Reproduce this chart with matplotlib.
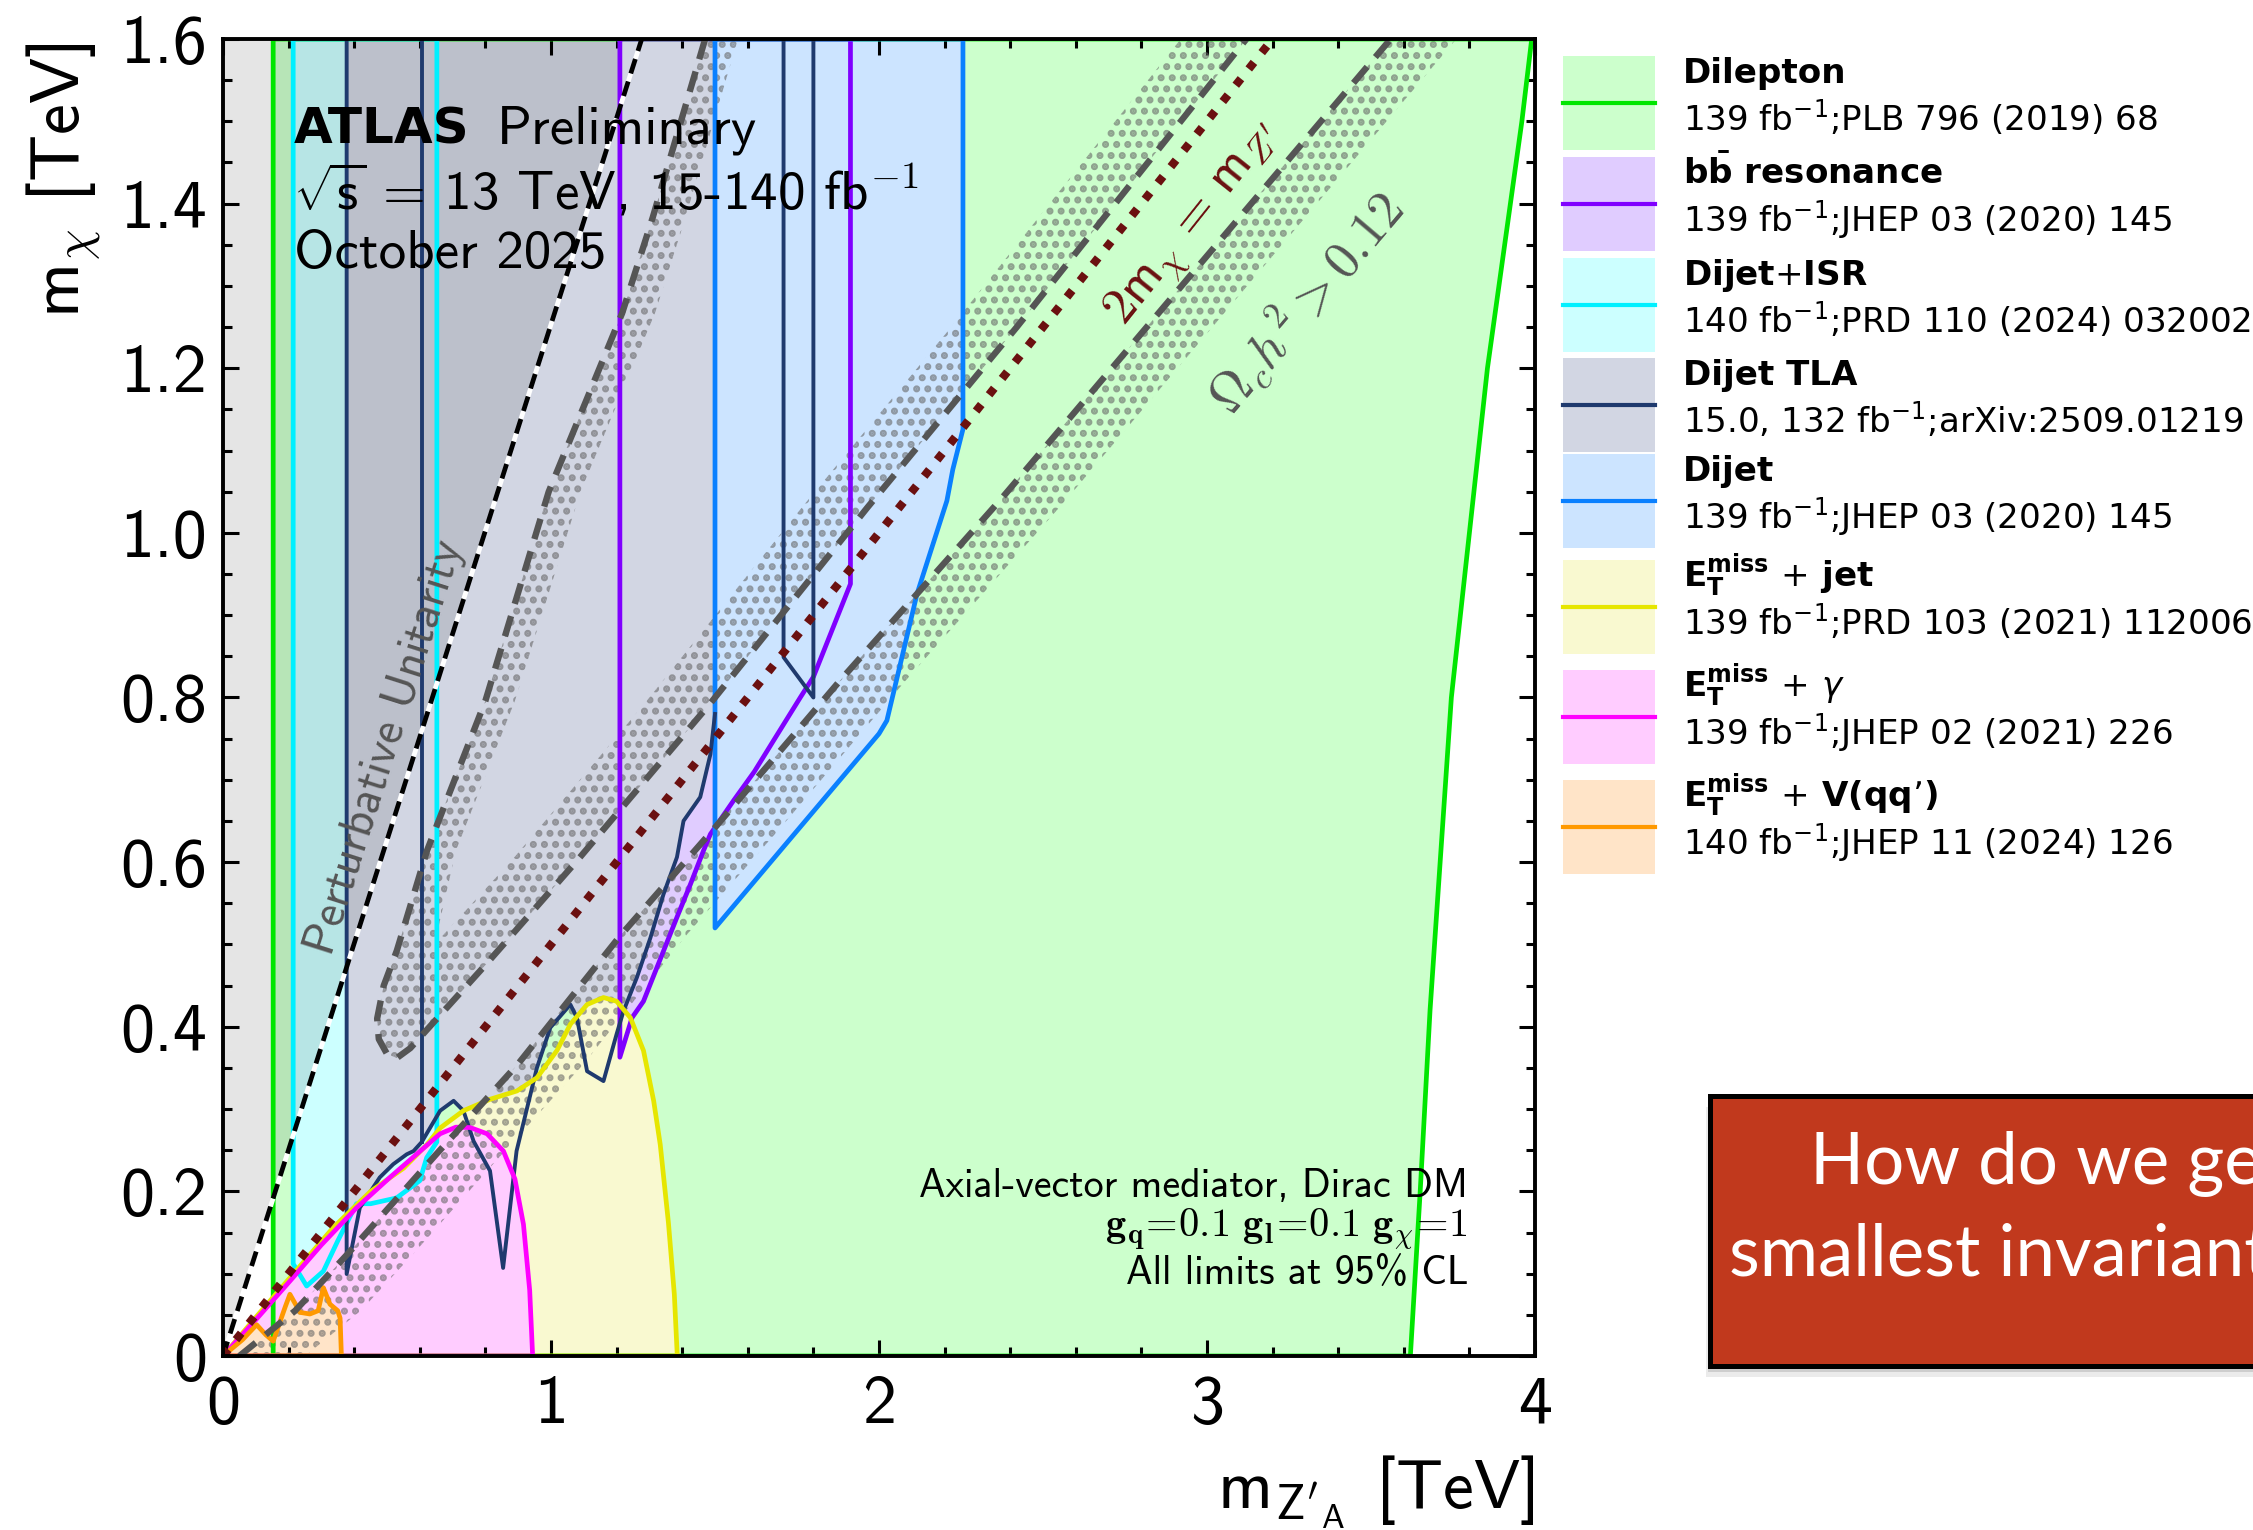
import numpy as np
import matplotlib
matplotlib.use("Agg")
import matplotlib.pyplot as plt
from matplotlib.patches import Rectangle
from matplotlib.ticker import MultipleLocator

# ---- excluded regions, (m_Z'A, m_chi) in TeV ----
lepton_x = [0.153, 0.153, 3.99, 3.96, 3.855, 3.745, 3.68, 3.65, 3.62]
lepton_y = [0.0, 1.6, 1.6, 1.5, 1.2, 0.8, 0.42, 0.2, 0.0]

bb_x = [1.21, 1.21, 1.247, 1.282, 1.303, 1.343, 1.384, 1.425, 1.465, 1.486, 1.557, 1.62, 1.679, 1.76, 1.80, 1.913, 1.913]
bb_y = [1.6, 0.363, 0.411, 0.431, 0.452, 0.492, 0.533, 0.573, 0.614, 0.634, 0.675, 0.71, 0.748, 0.80, 0.825, 0.938, 1.6]

isr_x = [0.214, 0.214, 0.255, 0.306, 0.35, 0.407, 0.45, 0.529, 0.60, 0.621, 0.652, 0.652]
isr_y = [1.6, 0.112, 0.085, 0.103, 0.14, 0.185, 0.185, 0.192, 0.213, 0.241, 0.26, 1.6]

tla_x = [0.377, 0.377, 0.417, 0.478, 0.519, 0.56, 0.581, 0.606, 0.662, 0.703, 0.733, 0.764, 0.814, 0.854,
         0.895, 0.957, 0.998, 1.059, 1.079, 1.11, 1.16, 1.20, 1.221, 1.262, 1.303, 1.343, 1.384, 1.404,
         1.455, 1.486, 1.5]
tla_y = [1.6, 0.0996, 0.18, 0.217, 0.233, 0.245, 0.249, 0.26, 0.298, 0.31, 0.298, 0.261, 0.225, 0.107,
         0.249, 0.35, 0.399, 0.427, 0.411, 0.346, 0.334, 0.391, 0.419, 0.46, 0.508, 0.561, 0.606, 0.65,
         0.679, 0.731, 0.78]
tla_mid_x = [0.606, 0.606]
tla_mid_y = [1.6, 0.26]
tla_hi_x = [1.709, 1.709, 1.80, 1.80]
tla_hi_y = [1.6, 0.849, 0.80, 1.6]

dijet_x = [1.5, 1.5, 2.0, 2.024, 2.116, 2.207, 2.225, 2.256, 2.256]
dijet_y = [1.6, 0.52, 0.756, 0.772, 0.926, 1.039, 1.077, 1.126, 1.6]

jet_x = [0.0, 0.1, 0.204, 0.336, 0.45, 0.55, 0.622, 0.662, 0.733, 0.815, 0.896, 0.957, 1.018, 1.059,
         1.11, 1.16, 1.20, 1.242, 1.282, 1.313, 1.333, 1.358, 1.376, 1.385]
jet_y = [0.0, 0.047, 0.095, 0.156, 0.2, 0.228, 0.257, 0.277, 0.298, 0.312, 0.322, 0.338, 0.371, 0.403,
         0.427, 0.4355, 0.431, 0.411, 0.371, 0.31, 0.257, 0.162, 0.075, 0.0]

gam_x = [0.0, 0.1, 0.204, 0.3, 0.407, 0.509, 0.61, 0.662, 0.71, 0.754, 0.805, 0.855, 0.89, 0.916, 0.935, 0.944]
gam_y = [0.0, 0.044, 0.091, 0.135, 0.18, 0.217, 0.252, 0.27, 0.278, 0.2775, 0.27, 0.249, 0.215, 0.16, 0.08, 0.0]

vqq_x = [0.0, 0.06, 0.1025, 0.13, 0.153, 0.19, 0.204, 0.235, 0.265, 0.29, 0.306, 0.326, 0.35, 0.357, 0.361]
vqq_y = [0.0, 0.02, 0.038, 0.026, 0.018, 0.06, 0.075, 0.053, 0.051, 0.055, 0.083, 0.063, 0.055, 0.046, 0.0]

# relic density contours (Omega h^2 = 0.12)
relic_u_x = [1.47, 1.31, 1.217, 0.993, 0.80, 0.622, 0.53, 0.49, 0.47, 0.475, 0.50, 0.53, 0.571, 0.80, 1.08,
             1.486, 1.965, 2.42, 3.12]
relic_u_y = [1.60, 1.383, 1.267, 1.05, 0.796, 0.614, 0.4925, 0.45, 0.41, 0.385, 0.367, 0.362, 0.374, 0.475,
             0.602, 0.793, 1.031, 1.25, 1.6]
relic_u_in_x = [1.57, 1.41, 1.317, 1.09, 0.89, 0.71, 0.645, 0.88, 1.286, 1.765, 2.22, 2.92]
relic_u_in_y = [1.6, 1.383, 1.267, 1.05, 0.796, 0.614, 0.5, 0.602, 0.793, 1.031, 1.25, 1.6]
relic_lo_x = [0.05, 0.22, 0.38, 0.65, 0.90, 1.21, 1.50, 1.88, 2.37, 3.56]
relic_lo_y = [0.0, 0.055, 0.124, 0.245, 0.355, 0.51, 0.642, 0.82, 1.04, 1.60]
relic_band_width = 0.2

unitarity_slope = np.sqrt(np.pi / 2)
overlay_xmax = 1.21

x_ticks = [0, 1, 2, 3, 4]
x_tick_labels = ["0", "1", "2", "3", "4"]
y_ticks = [0, 0.2, 0.4, 0.6, 0.8, 1.0, 1.2, 1.4, 1.6]
y_tick_labels = ["0", "0.2", "0.4", "0.6", "0.8", "1.0", "1.2", "1.4", "1.6"]

leg_titles = ["Dilepton", r"$\mathbf{b\bar{b}}$ resonance", r"Dijet$+$ISR", "Dijet TLA", "Dijet",
              r"$\mathbf{E_{T}^{miss}}$ $+$ jet", r"$\mathbf{E_{T}^{miss}}$ $+$ $\gamma$",
              r"$\mathbf{E_{T}^{miss}}$ $+$ V(qq’)"]
leg_refs = [r"139 fb$^{\mathrm{-1}}$;PLB 796 (2019) 68", r"139 fb$^{\mathrm{-1}}$;JHEP 03 (2020) 145",
            r"140 fb$^{\mathrm{-1}}$;PRD 110 (2024) 032002", r"15.0, 132 fb$^{\mathrm{-1}}$;arXiv:2509.01219",
            r"139 fb$^{\mathrm{-1}}$;JHEP 03 (2020) 145", r"139 fb$^{\mathrm{-1}}$;PRD 103 (2021) 112006",
            r"139 fb$^{\mathrm{-1}}$;JHEP 02 (2021) 226", r"140 fb$^{\mathrm{-1}}$;JHEP 11 (2024) 126"]
leg_fill = ["#ccffcc", "#e0ccff", "#ccffff", "#d2d6e3", "#cce4ff", "#f9f9d0", "#ffccff", "#ffe4c8"]
leg_line = ["#00e600", "#8000ff", "#00f0ff", "#1f3a6e", "#0a80ff", "#e6e600", "#ff00ff", "#ff9900"]
leg_tops = [56, 157, 258, 358, 454, 560, 670, 780]

SANS = ["cmss10", "DejaVu Sans"]
plt.rcParams["font.family"] = SANS
plt.rcParams["mathtext.fontset"] = "cm"
plt.rcParams["axes.unicode_minus"] = False
plt.rcParams["hatch.linewidth"] = 1.7

W, H, DPI = 2253, 1530, 200
fig = plt.figure(figsize=(W / DPI, H / DPI), dpi=DPI)
ax = fig.add_axes([223 / W, 174 / H, 1312 / W, 1317 / H])
ax.set_xlim(0, 4)
ax.set_ylim(0, 1.6)

LW = 1.7
regions = [
    (lepton_x, lepton_y, 0),
    (bb_x, bb_y, 1),
    (isr_x, isr_y, 2),
    (tla_x + tla_hi_x[1:3] + [1.80], tla_y + tla_hi_y[1:3] + [1.6], 3),
    (dijet_x, dijet_y, 4),
    (jet_x, jet_y, 5),
    (gam_x, gam_y, 6),
    (vqq_x, vqq_y, 7),
]
for i, (xs, ys, k) in enumerate(regions):
    ax.fill(xs, ys, facecolor=leg_fill[k], edgecolor="none", zorder=1 + 0.05 * i)

# unitarity-excluded shading on top of the fills
ax.fill_between([0, overlay_xmax], [0, unitarity_slope * overlay_xmax], 1.6,
                color="black", alpha=0.1, lw=0, zorder=1.6)

# hatched relic bands
band_u_x = relic_u_x + relic_u_in_x[::-1]
band_u_y = relic_u_y + relic_u_in_y[::-1]
band_lo_x = relic_lo_x + [v + relic_band_width for v in relic_lo_x[::-1]]
band_lo_y = relic_lo_y + relic_lo_y[::-1]
for bx, by in [(band_u_x, band_u_y), (band_lo_x, band_lo_y)]:
    ax.fill(bx, by, facecolor="none", edgecolor=(0.4, 0.4, 0.4, 0.6), hatch="...", lw=0, zorder=1.7)

# region outlines
for i, (xs, ys, k) in enumerate(regions):
    if k == 3:
        continue
    ax.plot(list(xs) + [xs[0]], list(ys) + [ys[0]], color=leg_line[k], lw=LW, zorder=2 + 0.05 * i)
for xs, ys in [(tla_x, tla_y), (tla_mid_x, tla_mid_y), (tla_hi_x, tla_hi_y)]:
    ax.plot(xs, ys, color=leg_line[3], lw=1.4, zorder=2.2)

# reference lines
ax.plot([0, 1.6 / unitarity_slope], [0, 1.6], color="black", lw=1.7, dashes=(3.2, 1.8),
        gapcolor="white", zorder=3)
ax.plot([0, 3.2], [0, 1.6], color="#6b1010", lw=3.0, dashes=(1, 1.5), dash_capstyle="butt", zorder=3.1)
for xs, ys in [(relic_u_x, relic_u_y), (relic_lo_x, relic_lo_y)]:
    ax.plot(xs, ys, color="#555555", lw=2.3, dashes=(3.3, 2.0), dash_capstyle="butt", zorder=3)

ax.text(0.495, 0.739, "Perturbative Unitarity", color="#555555", fontsize=17,
        rotation=np.degrees(np.arctan(unitarity_slope)), transform_rotates_text=True,
        rotation_mode="anchor", ha="center", va="center", zorder=4)
ax.text(2.96, 1.375, r"$2\mathsf{m}_{\chi}\,=\,\mathsf{m}_{Z^{\prime}}$", color="#6b1010", fontsize=18.5,
        rotation=np.degrees(np.arctan(0.5)), transform_rotates_text=True,
        rotation_mode="anchor", ha="center", va="center", zorder=4)
ax.text(3.30, 1.28, r"$\Omega_c h^2 > 0.12$", color="#555555", fontsize=19,
        rotation=np.degrees(np.arctan(0.47)), transform_rotates_text=True,
        rotation_mode="anchor", ha="center", va="center", zorder=4)

ax.set_xticks(x_ticks, x_tick_labels)
ax.set_yticks(y_ticks, y_tick_labels)
ax.xaxis.set_minor_locator(MultipleLocator(0.2))
ax.yaxis.set_minor_locator(MultipleLocator(0.05))
ax.tick_params(which="both", direction="in", top=True, right=True, width=1.1, labelsize=24.5)
ax.tick_params(which="major", length=5.8)
ax.tick_params(which="minor", length=3.2)
ax.tick_params(axis="x", pad=7)
ax.tick_params(axis="y", pad=5.8)
for s in ax.spines.values():
    s.set_linewidth(1.4)
    s.set_zorder(5)

# ---- overlay in pixel coordinates: labels, legend, slide box ----
lax = fig.add_axes([0, 0, 1, 1])
lax.set_xlim(0, W)
lax.set_ylim(H, 0)
lax.axis("off")

lax.text(65, 43, r"$\mathsf{m}_{\chi}$ [TeV]", rotation=90, rotation_mode="anchor",
         ha="right", va="center", fontsize=25)
lax.text(1535, 1492, r"$\mathsf{m}_{\mathsf{Z'}_{\mathsf{A}}}$ [TeV]", ha="right", va="center", fontsize=25)

lax.text(294, 143, "ATLAS", family="DejaVu Sans", fontweight="bold", fontsize=18, va="baseline")
lax.text(497, 143, "Preliminary", fontsize=19.8, va="baseline")
lax.text(293, 209, r"$\sqrt{\mathsf{s}}$ = 13 TeV, 15-140 fb$^{\mathsf{-1}}$", fontsize=19.8, va="baseline")
lax.text(294, 268, "October 2025", fontsize=19.8, va="baseline")

lax.text(1468, 1197, "Axial-vector mediator, Dirac DM", fontsize=14.4, ha="right", va="baseline")
lax.text(1468, 1237, r"$\mathbf{g_{q}\!=\!0.1\ g_{l}\!=\!0.1\ g_{\chi}\!=\!1}$", fontsize=14.6,
         ha="right", va="baseline")
lax.text(1468, 1284, "All limits at 95% CL", fontsize=14.4, ha="right", va="baseline")

for i in range(len(leg_titles)):
    top = leg_tops[i]
    lax.add_patch(Rectangle((1563, top), 92, 94, facecolor=leg_fill[i], edgecolor="none"))
    lax.plot([1563, 1655], [top + 47, top + 47], color=leg_line[i], lw=1.5)
    lax.text(1683, top + 27, leg_titles[i], family="DejaVu Sans", fontweight="bold", fontsize=12.3,
             va="baseline", math_fontfamily="dejavusans")
    lax.text(1683, top + 74, leg_refs[i], family="DejaVu Sans", fontsize=12.3,
             va="baseline", math_fontfamily="dejavusans")

# slide call-out box (cut by the right edge, as on the slide)
for dx, dy, a in [(-4, 11, 0.08), (-2, 6, 0.12)]:
    lax.add_patch(Rectangle((1710 + dx, 1096 + dy), 620, 270, facecolor="black", edgecolor="none", alpha=a))
lax.add_patch(Rectangle((1710, 1096), 620, 270, facecolor="#c1391d", edgecolor="black", lw=1.8))
lax.text(1810, 1184, "How do we get", family=["Lato", "DejaVu Sans"],
         color="white", fontsize=25.5, va="baseline")
lax.text(1729, 1275, "smallest invariant", family=["Lato", "DejaVu Sans"],
         color="white", fontsize=25.5, va="baseline")

fig.savefig("out.png", dpi=DPI)
